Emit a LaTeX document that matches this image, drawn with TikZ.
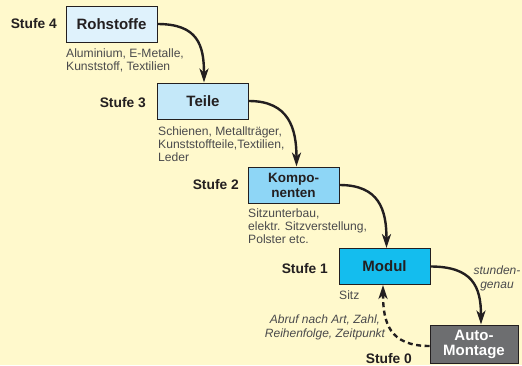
\documentclass[tikz,border=0pt]{standalone}
\usepackage{fontspec}
\setmainfont{Liberation Sans}
\usetikzlibrary{arrows.meta}
\definecolor{bg}{HTML}{FFF9CC}
\definecolor{lineblk}{HTML}{231F20}
\definecolor{descgray}{HTML}{4A4A4C}
\definecolor{fillA}{HTML}{DFF2FC}
\definecolor{fillB}{HTML}{C4E8F9}
\definecolor{fillC}{HTML}{8ED6F6}
\definecolor{fillD}{HTML}{14BDEE}
\definecolor{fillE}{HTML}{6D6E70}
\tikzset{
  box/.style={draw=lineblk, line width=0.9pt, minimum width=91pt, minimum height=36pt,
    inner sep=0pt, align=center, text=lineblk,
    font=\fontsize{15}{15}\selectfont\bfseries},
  stufe/.style={anchor=base east, inner sep=0pt, text=lineblk,
    font=\fontsize{13.8}{14}\selectfont\bfseries},
  desc/.style={anchor=north west, inner sep=0pt, align=left, text=descgray,
    font=\fontsize{12.1}{12.9}\selectfont},
  note/.style={inner sep=0pt, align=center, text=descgray,
    font=\fontsize{12}{14}\selectfont\itshape},
  conn/.style={draw=lineblk, line width=2.4pt, -{Stealth[length=14pt,width=9pt,inset=4pt]}},
}
\begin{document}
\begin{tikzpicture}[x=1pt,y=-1pt]
\useasboundingbox (0,0) rectangle (522,365);
\fill[bg] (0,0) rectangle (522,365);

\node[box, fill=fillA] (roh) at (111.5,24) {Rohstoffe};
\node[box, fill=fillB] (teile) at (203,101) {Teile};
\node[box, fill=fillC, font=\fontsize{13.5}{15}\selectfont\bfseries] (komp) at (293.5,185) {Kompo-\\nenten};
\node[box, fill=fillD] (modul) at (384.5,266.5) {Modul};
\node[box, fill=fillE, text=white, minimum width=88pt, minimum height=38pt] (auto) at (474,344) {Auto-\\Montage};

\node[stufe] (s4) at (57,28.5) {Stufe 4};
\node[stufe] (s3) at (146,107) {Stufe 3};
\node[stufe] (s2) at (239,189.5) {Stufe 2};
\node[stufe] (s1) at (328,273.5) {Stufe 1};
\node[stufe] (s0) at (412,363) {Stufe 0};

\node[desc] (d4) at (66,48.5) {Aluminium, E-Metalle,\\Kunststoff, Textilien};
\node[desc] (d3) at (158,126.5) {Schienen, Metallträger,\\Kunststoffteile,Textilien,\\Leder};
\node[desc] (d2) at (248,208.5) {Sitzunterbau,\\elektr. Sitzverstellung,\\Polster etc.};
\node[desc] (d1) at (339,290.5) {Sitz};

\node[note] (n1) at (497,278) {stunden-\\genau};
\node[note] (n2) at (325,327) {Abruf nach Art, Zahl,\\Reihenfolge, Zeitpunkt};

\draw[conn] (roh.east) .. controls +(40,0) and +(0,-38) .. ([xshift=1pt]teile.north);
\draw[conn] (teile.east) .. controls +(40,0) and +(0,-38) .. ([xshift=3pt]komp.north);
\draw[conn] (komp.east) .. controls +(40,0) and +(0,-38) .. ([xshift=2pt]modul.north);
\draw[conn] (modul.east) .. controls +(42,0) and +(0,-38) .. ([xshift=7pt]auto.north);
\draw[conn, dash pattern=on 5pt off 3.5pt] ([yshift=-2pt]auto.west) .. controls +(-40,0) and +(0,38) .. ([xshift=-1.5pt]modul.south);
\end{tikzpicture}
\end{document}
